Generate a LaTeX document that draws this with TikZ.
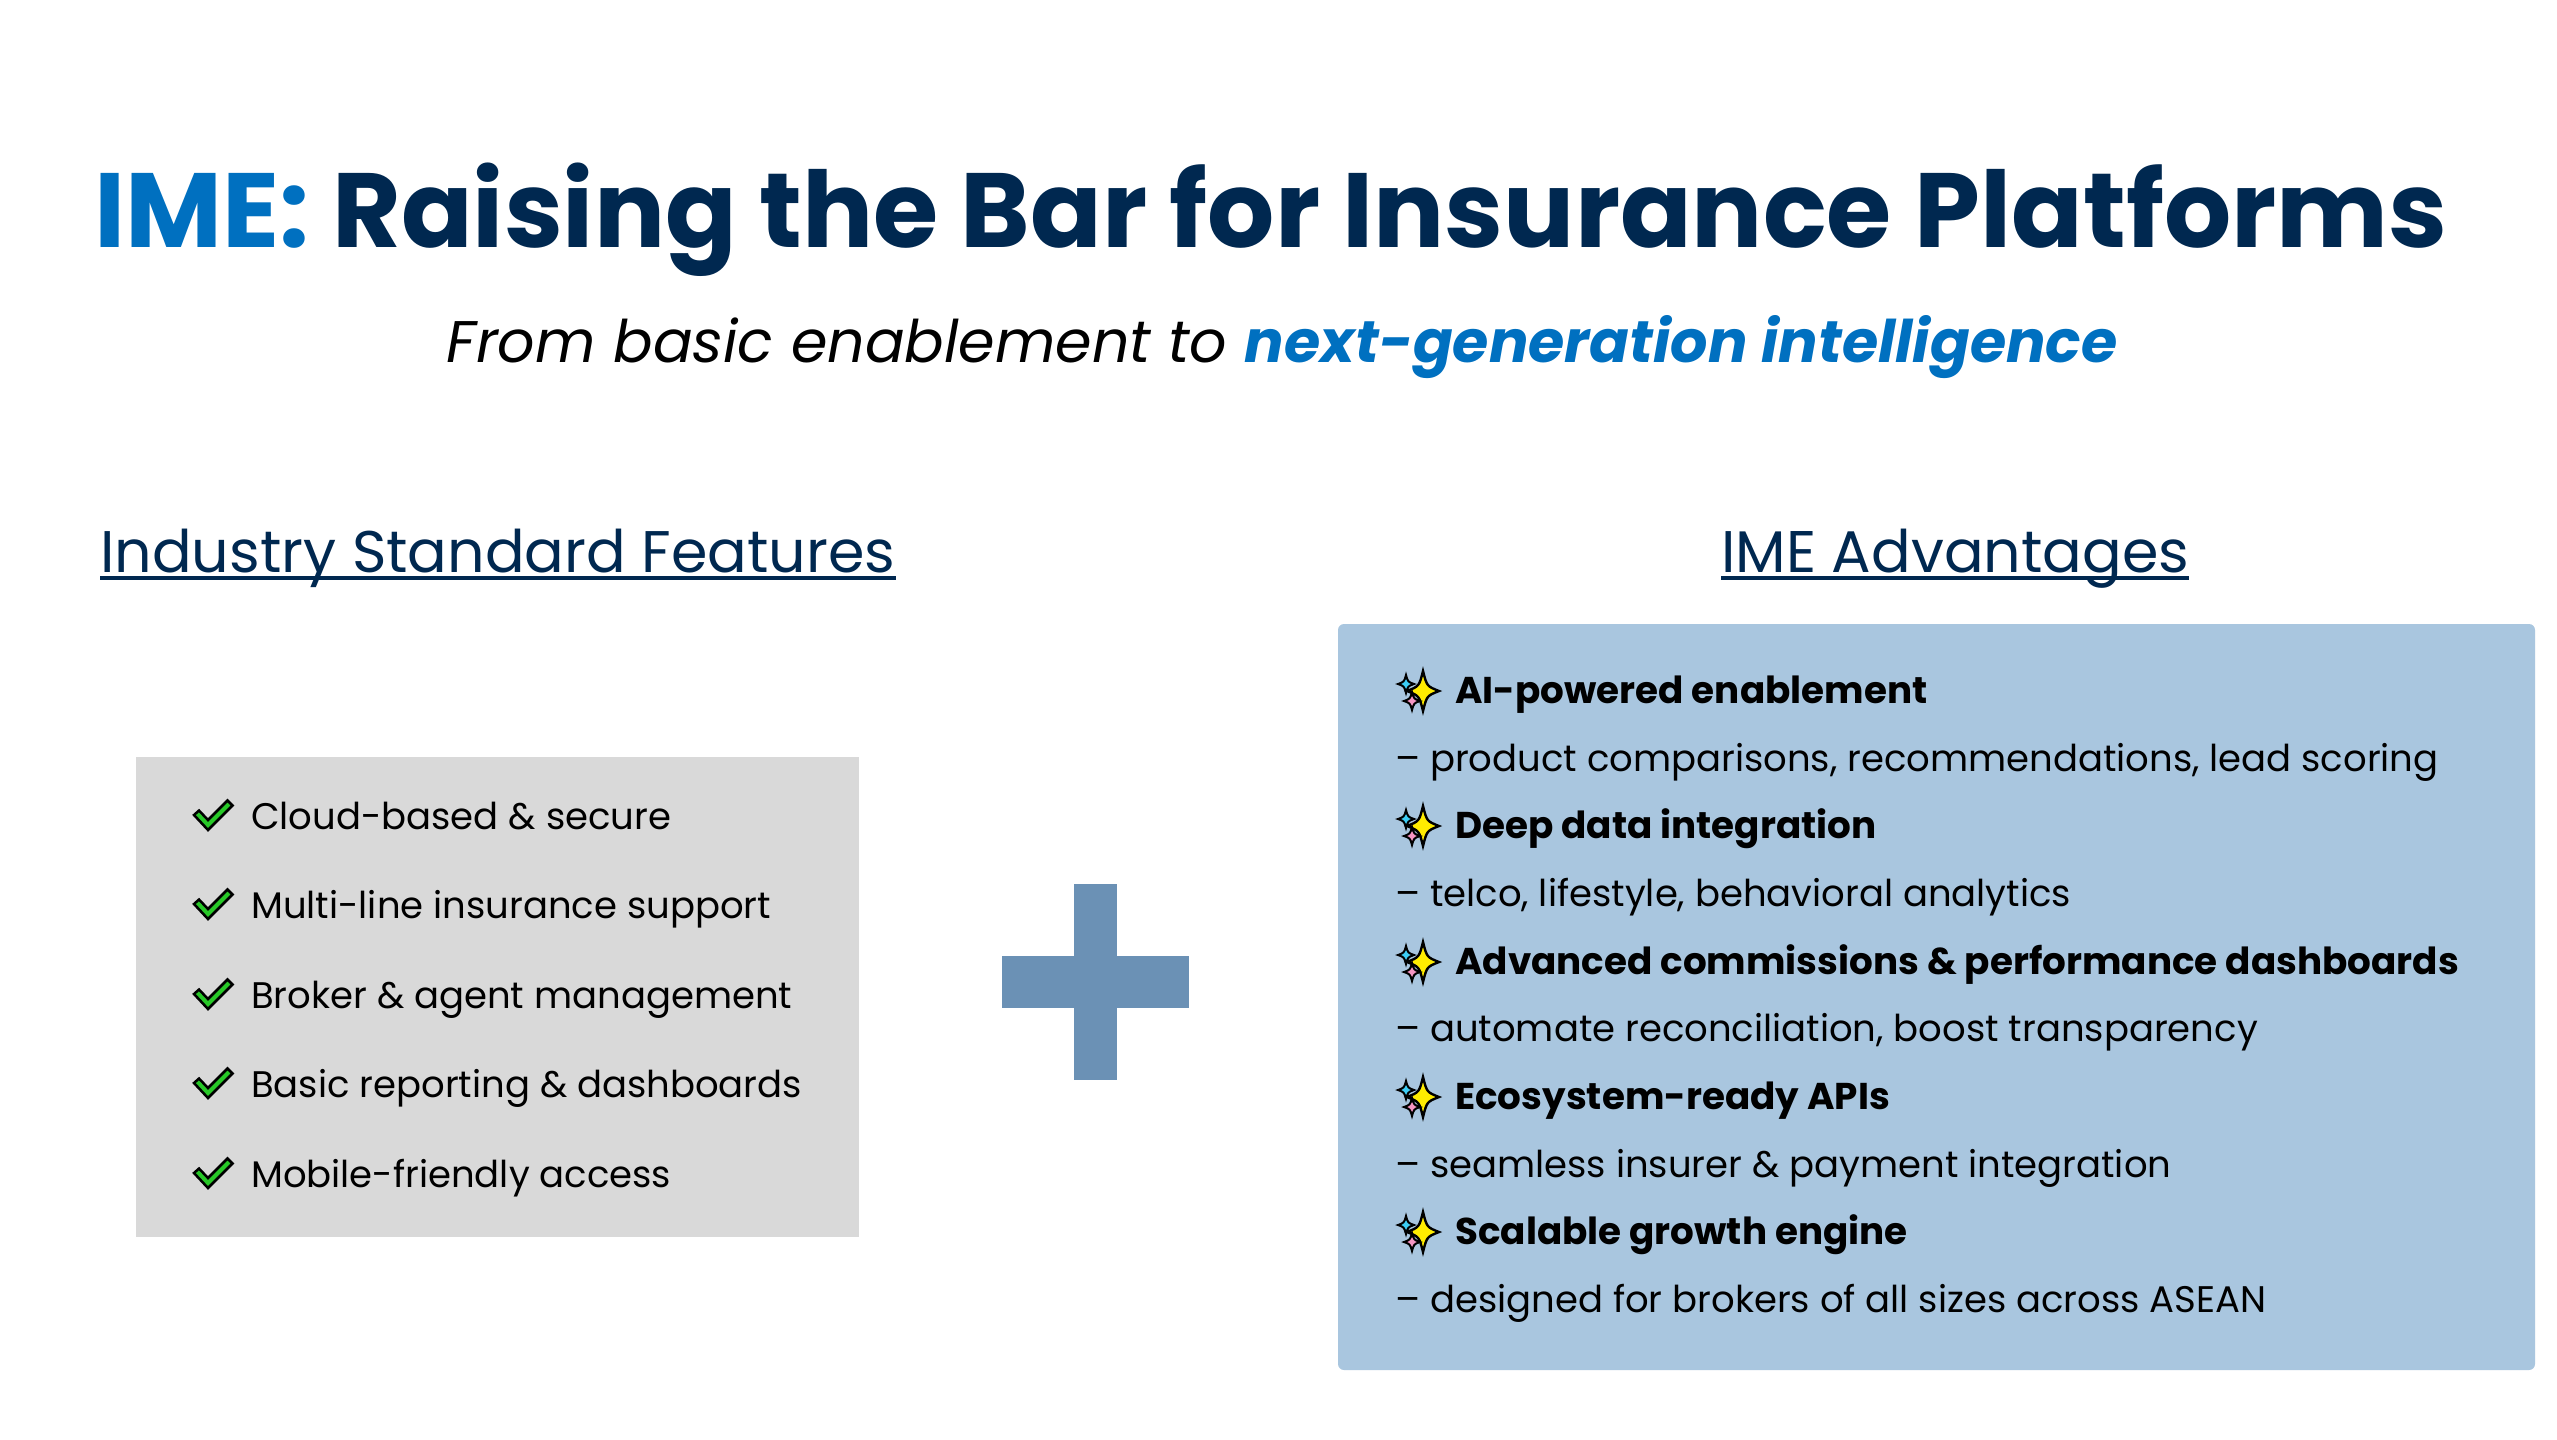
\documentclass[tikz,border=0pt]{standalone}
\usepackage{fontspec}
\setmainfont{Poppins}
\usepackage{xcolor}
\usepackage{tikz}
\usetikzlibrary{positioning, calc}
\definecolor{imenavy}{RGB}{0,40,80}
\definecolor{imeblue}{RGB}{0,112,192}
\definecolor{imegray}{RGB}{217,217,217}
\definecolor{imepanel}{RGB}{169,198,223}
\definecolor{imeplus}{RGB}{107,145,181}
\definecolor{imegreen}{RGB}{40,200,40}
\definecolor{imeyellow}{RGB}{255,236,0}
\definecolor{imecyan}{RGB}{60,205,245}
\definecolor{imepink}{RGB}{245,150,195}
\newcommand{\twinkle}[4]{(#1,#2-#4) .. controls (#1+0.24*#3,#2-0.24*#4) .. (#1+#3,#2) .. controls (#1+0.24*#3,#2+0.24*#4) .. (#1,#2+#4) .. controls (#1-0.24*#3,#2+0.24*#4) .. (#1-#3,#2) .. controls (#1-0.24*#3,#2-0.24*#4) .. cycle}
\tikzset{
  itemtxt/.style={anchor=base west, inner sep=0pt, font=\fontsize{37}{44}\selectfont},
  boldtxt/.style={itemtxt, font=\fontsize{37.3}{44}\selectfont\bfseries},
  headtxt/.style={anchor=base west, inner sep=0pt, text=imenavy, font=\fontsize{58.7}{70}\selectfont},
  okmark/.pic={
    \draw[fill=imegreen, line width=2.5pt, line join=miter]
      (-19,0) -- (-14,-4.5) -- (-5,5) -- (14.5,-14.5) -- (19.5,-9.5) -- (-5,15) -- cycle;
  },
  sparkle/.pic={
    \draw[fill=imecyan, line width=2pt] \twinkle{-16}{-7}{8}{9};
    \draw[fill=imeyellow, line width=2.4pt] \twinkle{1}{0}{16}{20};
    \draw[fill=imepink, line width=2pt] \twinkle{-10}{10}{8}{9};
  }
}

\begin{document}
\begin{tikzpicture}[x=1pt, y=-1pt]
\useasboundingbox[fill=white] (0,0) rectangle (2557,1440);

% Title and subtitle
\node[anchor=base, inner sep=0pt, text=imenavy, font=\fontsize{105.6}{126}\selectfont\bfseries] (title) at (1271,247)
  {\textcolor{imeblue}{IME:} Raising the Bar for Insurance Platforms};
\node[anchor=base, inner sep=0pt, font=\fontsize{58.7}{70}\selectfont\itshape] (subtitle) at (1282,362)
  {From basic enablement to \textcolor{imeblue}{\bfseries next-generation intelligence}};

% Column headings
\node[headtxt] (headstd) at (100,572) {Industry Standard Features};
\node[headtxt] (headime) at (1721,572) {IME Advantages};
\draw[imenavy, line width=3.5pt] ($(headstd.base west)+(0,6)$) -- ($(headstd.base east)+(0,6)$);
\draw[imenavy, line width=3.5pt] ($(headime.base west)+(0,6)$) -- ($(headime.base east)+(0,6)$);

% Standard features
\fill[imegray] (136,757) rectangle (859,1237);
\node[itemtxt] (feat1) at (251,829) {Cloud-based \& secure};
\node[itemtxt] (feat2) at (251,918) {Multi-line insurance support};
\node[itemtxt] (feat3) at (251,1008) {Broker \& agent management};
\node[itemtxt] (feat4) at (251,1097) {Basic reporting \& dashboards};
\node[itemtxt] (feat5) at (251,1187) {Mobile-friendly access};
\pic at ($(feat1.base west)+(-38,-14)$) {okmark};
\pic at ($(feat2.base west)+(-38,-14)$) {okmark};
\pic at ($(feat3.base west)+(-38,-14)$) {okmark};
\pic at ($(feat4.base west)+(-38,-14)$) {okmark};
\pic at ($(feat5.base west)+(-38,-14)$) {okmark};

% Plus
\fill[imeplus] (1074,884) rectangle (1117,1080);
\fill[imeplus] (1002,956) rectangle (1189,1008);

% IME advantages
\fill[imepanel, rounded corners=6pt] (1338,624) rectangle (2535,1370);
\node[boldtxt] (adv1) at (1455,703) {AI-powered enablement};
\node[itemtxt] (note1) at (1395,771) {– product comparisons, recommendations, lead scoring};
\node[boldtxt] (adv2) at (1455,838) {Deep data integration};
\node[itemtxt] (note2) at (1395,906) {– telco, lifestyle, behavioral analytics};
\node[boldtxt] (adv3) at (1455,974) {Advanced commissions \& performance dashboards};
\node[itemtxt] (note3) at (1395,1041) {– automate reconciliation, boost transparency};
\node[boldtxt] (adv4) at (1455,1109) {Ecosystem-ready APIs};
\node[itemtxt] (note4) at (1395,1177) {– seamless insurer \& payment integration};
\node[boldtxt] (adv5) at (1455,1244) {Scalable growth engine};
\node[itemtxt] (note5) at (1395,1312) {– designed for brokers of all sizes across ASEAN};
\pic at ($(adv1.base west)+(-33,-12)$) {sparkle};
\pic at ($(adv2.base west)+(-33,-12)$) {sparkle};
\pic at ($(adv3.base west)+(-33,-12)$) {sparkle};
\pic at ($(adv4.base west)+(-33,-12)$) {sparkle};
\pic at ($(adv5.base west)+(-33,-12)$) {sparkle};
\end{tikzpicture}
\end{document}
